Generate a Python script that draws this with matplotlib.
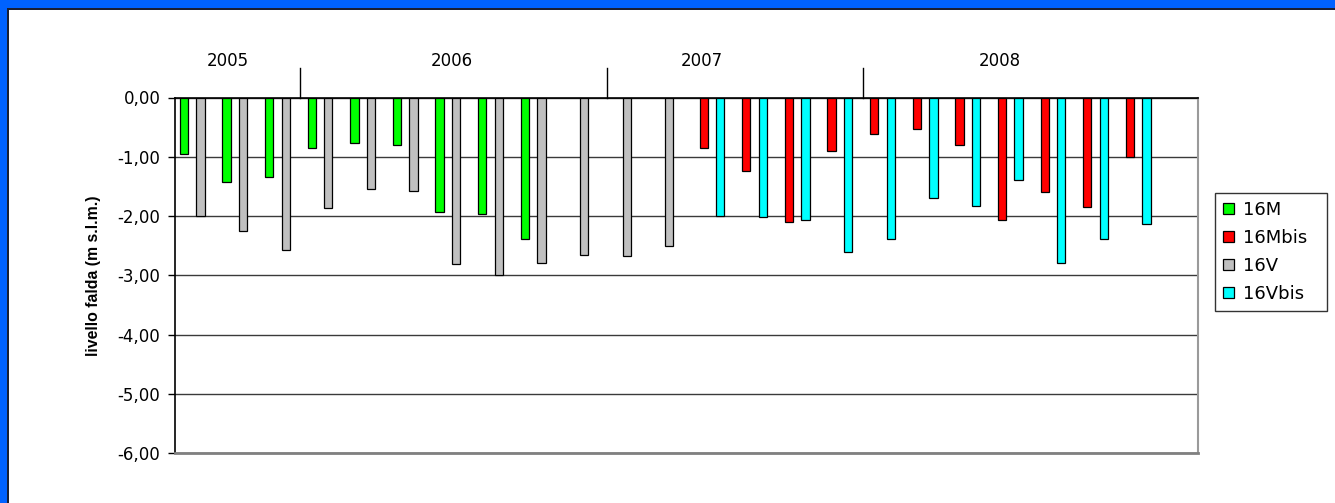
import numpy as np
import matplotlib
matplotlib.use("Agg")
import matplotlib.pyplot as plt
import matplotlib.transforms as mtransforms
from matplotlib.patches import Rectangle

nan = np.nan

# one category per survey, year of each survey
years = ['2005'] * 3 + ['2006'] * 7 + ['2007'] * 6 + ['2008'] * 8

# groundwater level (m s.l.m.)
m16 = [-0.95, -1.43, -1.34, -0.86, -0.76, -0.80, -1.93, -1.97, -2.39,
       nan, nan, nan, nan, nan, nan, nan, nan, nan, nan, nan, nan, nan, nan, nan]
m16bis = [nan] * 12 + [-0.86, -1.24, -2.10, -0.90, -0.61, -0.54, -0.80, -2.06,
                       -1.60, -1.85, -1.00, nan]
v16 = [-2.00, -2.25, -2.58, -1.87, -1.55, -1.57, -2.81, -3.00, -2.79, -2.65,
       -2.67, -2.50] + [nan] * 12
v16bis = [nan] * 12 + [-2.00, -2.01, -2.06, -2.61, -2.39, -1.70, -1.83, -1.40,
                       -2.79, -2.39, -2.14, nan]

series = [('16M', m16, '#00FF00'),
          ('16Mbis', m16bis, '#FF0000'),
          ('16V', v16, '#C0C0C0'),
          ('16Vbis', v16bis, '#00FFFF')]

year_names = ['2005', '2006', '2007', '2008']
year_label_x = [0.74, 6.0, 11.86, 18.85]
year_sep_x = [2.43, 9.64, 15.63]

fig = plt.figure(figsize=(13.35, 5.03), dpi=100)
fig.patch.set_facecolor('white')

# blue frame on top and left
fig.patches.append(Rectangle((0, 1 - 8 / 503), 1, 8 / 503, transform=fig.transFigure,
                             facecolor='#0062FF', edgecolor='none', zorder=0))
fig.patches.append(Rectangle((0, 1 - 9.5 / 503), 1, 1.5 / 503, transform=fig.transFigure,
                             facecolor='#1a1f33', edgecolor='none', zorder=0))
fig.patches.append(Rectangle((0, 0), 7 / 1335, 1, transform=fig.transFigure,
                             facecolor='#0062FF', edgecolor='none', zorder=1))
fig.patches.append(Rectangle((7 / 1335, 0), 1.5 / 1335, 1 - 8 / 503, transform=fig.transFigure,
                             facecolor='#1a1f33', edgecolor='none', zorder=1))

ax = fig.add_axes([175 / 1335, 1 - 453 / 503, 1023 / 1335, 355.5 / 503])

x = np.arange(len(years))
w = 0.195
for k, (name, vals, col) in enumerate(series):
    ax.bar(x + (k - 1.5) * w, vals, width=w, color=col, edgecolor='black',
           linewidth=0.9, label=name, zorder=3)

ax.set_xlim(-0.5, len(years) - 0.5)
ax.set_ylim(-6, 0)
ticks = np.arange(-6, 1, 1)
ax.set_yticks(ticks)
ax.set_yticklabels([('%.2f' % t).replace('.', ',') for t in ticks],
                   fontsize=12, family='DejaVu Sans')
ax.tick_params(axis='y', direction='out', length=5, width=1, pad=5.5)
ax.set_xticks([])
ax.yaxis.grid(True, color='#3a3a3a', linewidth=1)
ax.set_axisbelow(True)

for s in ['top', 'left']:
    ax.spines[s].set_color('black')
    ax.spines[s].set_linewidth(1.2)
ax.spines['right'].set_color('#9a9a9a')
ax.spines['right'].set_linewidth(1.5)
ax.spines['bottom'].set_color('#808080')
ax.spines['bottom'].set_linewidth(2)

ax.set_ylabel('livello falda (m s.l.m.)', family='Liberation Sans', fontweight='bold',
              fontsize=11.4, labelpad=12)

# year header above the zero line
trans = mtransforms.blended_transform_factory(ax.transData, ax.transAxes)
for xs in year_sep_x:
    ax.plot([xs, xs], [1, 1.084], color='black', linewidth=1, transform=trans,
            clip_on=False)
for name, xl in zip(year_names, year_label_x):
    ax.text(xl, 1.103, name, transform=trans, ha='center', va='center',
            fontsize=12, family='DejaVu Sans')

leg = ax.legend(loc='upper left',
                bbox_to_anchor=(1215 / 1335, 1 - 193 / 503 - 0.01, 112 / 1335, 0.01),
                bbox_transform=fig.transFigure, mode='expand',
                prop={'family': 'DejaVu Sans', 'size': 13}, frameon=True, fancybox=False,
                borderaxespad=0, handlelength=0.6, handleheight=0.6, handletextpad=0.5,
                labelspacing=0.55, borderpad=0.45)
leg.get_frame().set_edgecolor('black')
leg.get_frame().set_linewidth(1)

fig.savefig('out.png', dpi=100)
